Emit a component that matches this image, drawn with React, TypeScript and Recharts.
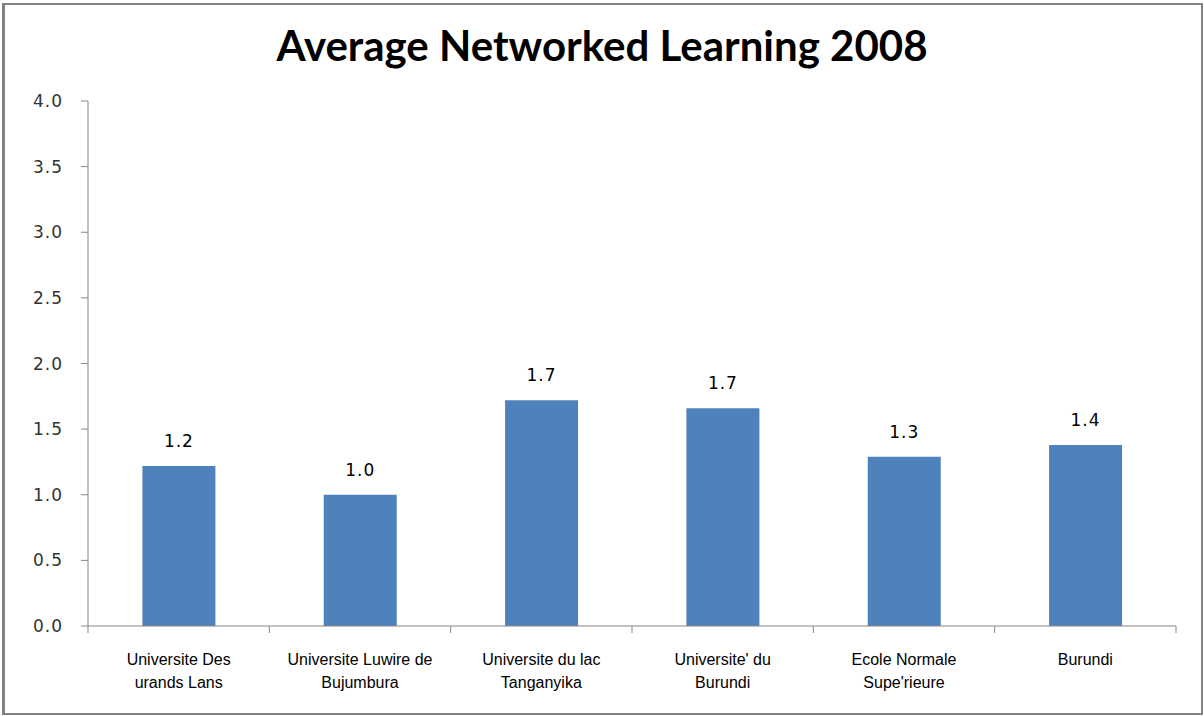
import { BarChart, Bar, XAxis, YAxis, LabelList } from 'recharts'

// one entry per institution; second line of the label is empty where the name fits on one line
const labelLine1 = ['Universite Des', 'Universite Luwire de', 'Universite du lac', "Universite' du", 'Ecole Normale', 'Burundi']
const labelLine2 = ['urands Lans', 'Bujumbura', 'Tanganyika', 'Burundi', "Supe'rieure", '']
const averages = [1.22, 1.0, 1.72, 1.66, 1.29, 1.38]
const yTicks = [0, 0.5, 1, 1.5, 2, 2.5, 3, 3.5, 4]

const data = averages.map((v, i) => ({ name: labelLine1[i], line2: labelLine2[i], value: v }))

const AXIS_COLOR = '#868686'
const BAR_COLOR = '#4f81bd'

const CategoryTick = (props: any) => {
  const { x, y, payload, index } = props
  const half = payload.offset || 0
  const isLast = index === data.length - 1
  return (
    <g>
      <line x1={x - half} y1={y - 8} x2={x - half} y2={y - 1} stroke={AXIS_COLOR} />
      {isLast && <line x1={x + half} y1={y - 8} x2={x + half} y2={y - 1} stroke={AXIS_COLOR} />}
      <text x={x} y={y + 31} textAnchor="middle" fontSize={16} fontFamily="'Liberation Sans Narrow', 'Liberation Sans', sans-serif" fill="#000">
        <tspan x={x}>{payload.value}</tspan>
        <tspan x={x} dy={23}>{labelLine2[index]}</tspan>
      </text>
    </g>
  )
}

export default function App() {
  return (
    <div style={{ position: 'absolute', left: 0, top: 0, width: 1204, height: 716, background: '#fff' }}>
      <div
        style={{
          position: 'absolute', left: 2, top: 3, width: 1201, height: 712,
          border: '2px solid #828282', borderLeftWidth: 3, boxSizing: 'border-box',
        }}
      />
      <div
        style={{
          position: 'absolute', left: 0, top: 20, width: 1204, textAlign: 'center',
          fontFamily: 'Lato, sans-serif', fontWeight: 700, fontSize: 42, color: '#000',
        }}
      >
        Average Networked Learning 2008
      </div>
      <div style={{ position: 'absolute', left: 0, top: 0 }}>
        <BarChart
          width={1204}
          height={716}
          data={data}
          margin={{ top: 101, right: 28, bottom: 0, left: 0 }}
          barCategoryGap="30%"
        >
          <XAxis
            dataKey="name"
            height={90}
            axisLine={{ stroke: AXIS_COLOR }}
            tickLine={false}
            tick={<CategoryTick />}
            interval={0}
          />
          <YAxis
            width={88}
            domain={[0, 4]}
            ticks={yTicks}
            tickFormatter={(v: number) => v.toFixed(1)}
            axisLine={{ stroke: AXIS_COLOR }}
            tickLine={{ stroke: AXIS_COLOR }}
            tickSize={7}
            tickMargin={18}
            tick={{ fontSize: 17, fill: '#333', fontFamily: 'DejaVu Sans, sans-serif', letterSpacing: 1 }}
          />
          <Bar dataKey="value" fill={BAR_COLOR} isAnimationActive={false}>
            <LabelList
              dataKey="value"
              position="top"
              offset={19}
              formatter={(v: any) => Number(v).toFixed(1)}
              style={{ fontSize: 17, fill: '#000', fontFamily: 'DejaVu Sans, sans-serif', letterSpacing: 1 }}
            />
          </Bar>
        </BarChart>
      </div>
    </div>
  )
}
